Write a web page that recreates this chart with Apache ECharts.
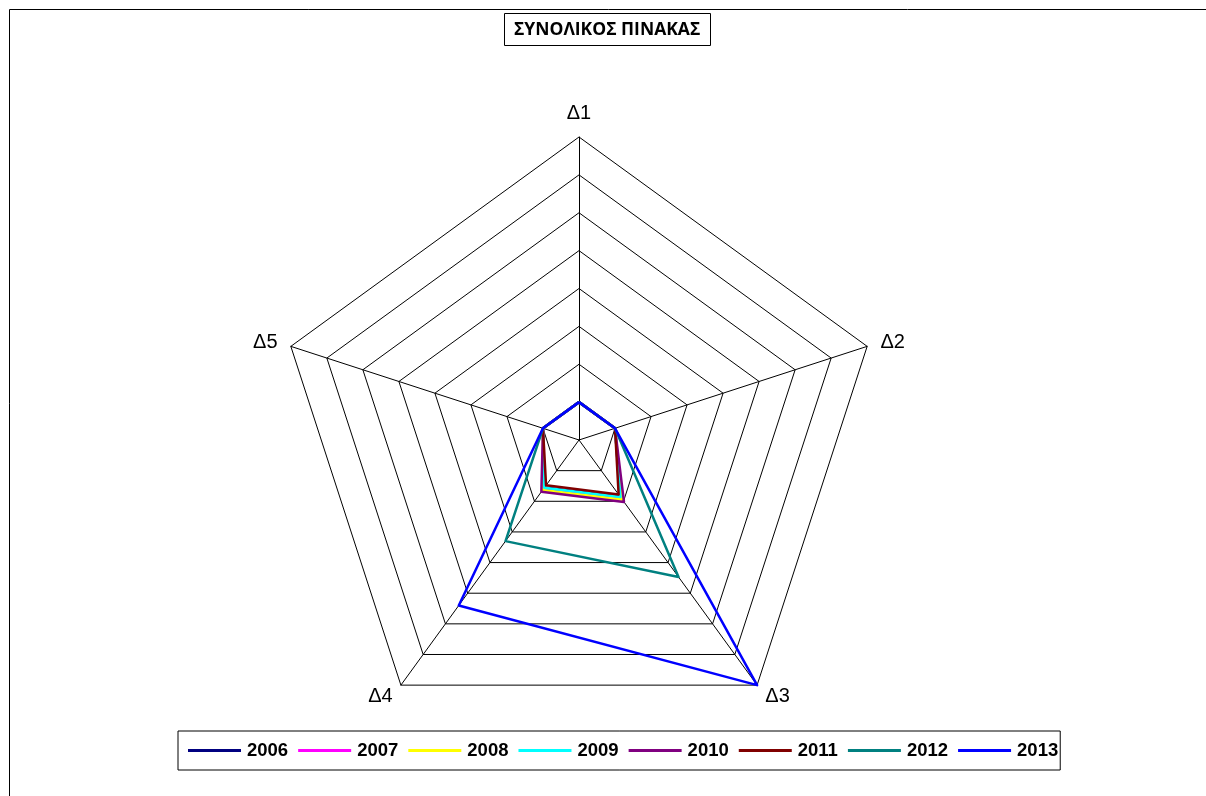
<!DOCTYPE html>
<html>
<head>
<meta charset="utf-8">
<script src="https://cdn.jsdelivr.net/npm/echarts@6/dist/echarts.min.js"></script>
<style>
html,body{margin:0;padding:0;background:#fff;}
#chart{width:1206px;height:796px;}
</style>
</head>
<body>
<div id="chart"></div>
<script>
const titleText = 'ΣΥΝΟΛΙΚΟΣ ΠΙΝΑΚΑΣ';
const categories = ['Δ1', 'Δ2', 'Δ3', 'Δ4', 'Δ5'];
const years = ['2006', '2007', '2008', '2009', '2010', '2011', '2012', '2013'];
const colors = ['#000080', '#FF00FF', '#FFFF00', '#00FFFF', '#800080', '#800000', '#008080', '#0000FF'];
const v2006 = [1, 1, 1.85, 1.55, 1];
const v2007 = [1, 1, 1.88, 1.58, 1];
const v2008 = [1, 1, 1.94, 1.63, 1];
const v2009 = [1, 1, 1.86, 1.56, 1];
const v2010 = [1, 1, 2.02, 1.69, 1];
const v2011 = [1, 1, 1.78, 1.48, 1];
const v2012 = [1, 1, 4.47, 3.3, 1];
const v2013 = [1, 1, 8, 5.4, 1];
const axisMax = 8;
const ringCount = 8;

const seriesValues = [v2006, v2007, v2008, v2009, v2010, v2011, v2012, v2013];
// ECharts places radar indicators counter-clockwise; reorder so Δ1..Δ5 run clockwise
const order = [0, 4, 3, 2, 1];

const chart = echarts.init(document.getElementById('chart'), null, {renderer: 'canvas'});
chart.setOption({
  animation: false,
  backgroundColor: '#fff',
  color: colors,
  title: {
    text: titleText,
    left: 504,
    top: 13,
    padding: [8, 10, 7, 10],
    borderColor: '#000',
    borderWidth: 1,
    textStyle: {fontFamily: 'Open Sans', fontWeight: 'bold', fontSize: 17.5, color: '#000'}
  },
  graphic: [{
    type: 'rect',
    shape: {x: 9.5, y: 9.5, width: 1220, height: 820},
    style: {fill: 'none', stroke: '#000', lineWidth: 1},
    silent: true
  }],
  legend: {
    data: years,
    left: 178,
    top: 731,
    padding: [10, 2, 10, 10],
    itemGap: 10,
    itemWidth: 53,
    itemHeight: 3,
    icon: 'rect',
    borderColor: '#000',
    borderWidth: 1,
    textStyle: {fontFamily: 'Liberation Sans', fontWeight: 'bold', fontSize: 18.5, color: '#000', padding: [0, 0, 0, 1]}
  },
  radar: {
    center: [579, 440],
    radius: 303,
    startAngle: 90,
    splitNumber: ringCount,
    shape: 'polygon',
    indicator: order.map(i => ({name: categories[i], max: axisMax, min: 0})),
    axisName: {color: '#000', fontFamily: 'Liberation Sans', fontSize: 20},
    nameGap: 14,
    axisLine: {lineStyle: {color: '#000', width: 1}},
    splitLine: {lineStyle: {color: '#000', width: 1}},
    splitArea: {show: false},
    axisTick: {show: false},
    axisLabel: {show: false}
  },
  series: [{
    type: 'radar',
    symbol: 'none',
    data: years.map((y, k) => ({
      name: y,
      value: order.map(i => seriesValues[k][i]),
      lineStyle: {color: colors[k], width: 2.5},
      itemStyle: {color: colors[k]}
    }))
  }]
});
</script>
</body>
</html>
